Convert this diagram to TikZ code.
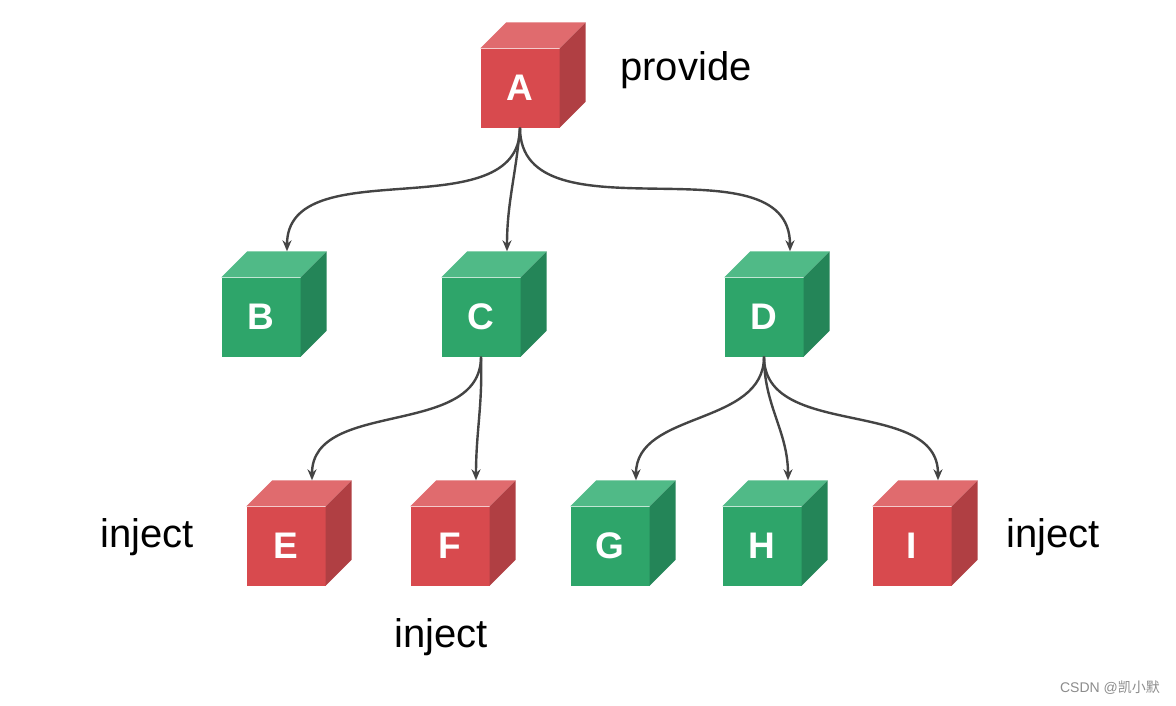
\documentclass[tikz,border=0pt]{standalone}
\usepackage{fontspec}
\setmainfont{Liberation Sans}
\newfontfamily\cjk{Noto Sans CJK SC}
\usetikzlibrary{arrows.meta}
\definecolor{redF}{HTML}{D84A4E}
\definecolor{redT}{HTML}{E06B6E}
\definecolor{redS}{HTML}{B03F43}
\definecolor{grnF}{HTML}{2EA56A}
\definecolor{grnT}{HTML}{50BA87}
\definecolor{grnS}{HTML}{248558}
\definecolor{arr}{HTML}{444444}
\tikzset{
  face/.style={minimum width=79pt,minimum height=79pt,inner sep=0pt,
    font=\bfseries\fontsize{37}{37}\selectfont,text=white},
  redface/.style={face,fill=redF},
  grnface/.style={face,fill=grnF},
  lbl/.style={font=\fontsize{40}{40}\selectfont,text=black,anchor=base,inner sep=0pt},
  conn/.style={draw=arr,line width=2.4pt,-{Stealth[length=11pt,width=9pt]}},
}
\newcommand\cubesides[3]{%
  \fill[#2] (#1.north west) -- ([shift={(26,-26)}]#1.north west) -- ([shift={(26,-26)}]#1.north east) -- (#1.north east) -- cycle;
  \fill[#3] (#1.north east) -- ([shift={(26,-26)}]#1.north east) -- ([shift={(26,-26)}]#1.south east) -- (#1.south east) -- cycle;
  \coordinate (#1t) at ([shift={(26,-26)}]#1.north);
}
\begin{document}
\begin{tikzpicture}[x=1pt,y=-1pt]
\useasboundingbox[fill=white] (0,0) rectangle (1176,705);
% cubes
\node[redface] (A) at (520,88) {A};  \cubesides{A}{redT}{redS}
\node[grnface] (B) at (261,317) {B}; \cubesides{B}{grnT}{grnS}
\node[grnface] (C) at (481,317) {C}; \cubesides{C}{grnT}{grnS}
\node[grnface] (D) at (764,317) {D}; \cubesides{D}{grnT}{grnS}
\node[redface] (E) at (286,546) {E}; \cubesides{E}{redT}{redS}
\node[redface] (F) at (450,546) {F}; \cubesides{F}{redT}{redS}
\node[grnface] (G) at (610,546) {G}; \cubesides{G}{grnT}{grnS}
\node[grnface] (H) at (762,546) {H}; \cubesides{H}{grnT}{grnS}
\node[redface] (I) at (912,546) {I}; \cubesides{I}{redT}{redS}
% connectors
\draw[conn] (A.south) to[out=-90,in=90] (Bt);
\draw[conn] (A.south) to[out=-95,in=90] (Ct);
\draw[conn] (A.south) to[out=-90,in=90] (Dt);
\draw[conn] (C.south) to[out=-90,in=90] (Et);
\draw[conn] (C.south) to[out=-88,in=90] (Ft);
\draw[conn] (D.south) to[out=-90,in=90] (Gt);
\draw[conn] (D.south) to[out=-90,in=90] (Ht);
\draw[conn] (D.south) to[out=-90,in=90] (It);
% labels
\node[lbl] (p) at (686,80) {provide};
\node[lbl] (i1) at (147,547) {inject};
\node[lbl] (i2) at (441,647) {inject};
\node[lbl] (i3) at (1053,547) {inject};
\node[font=\fontsize{14}{14}\selectfont,text=black!45,inner sep=0pt] (wm) at (1110,688) {CSDN @{\cjk 凯小默}};
\end{tikzpicture}
\end{document}
